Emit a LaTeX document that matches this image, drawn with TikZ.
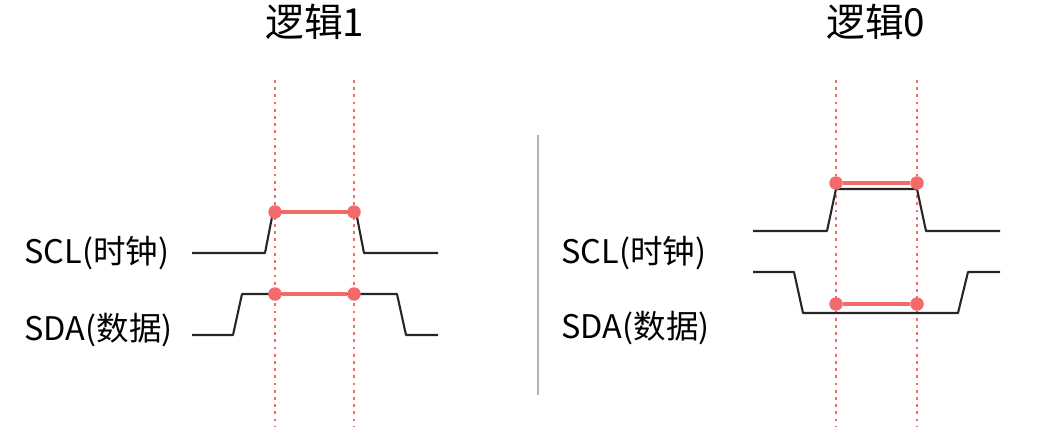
\documentclass[tikz,border=0pt]{standalone}
\usepackage{fontspec}
\setmainfont{Noto Sans CJK SC}
\usepackage{tikz}
\usetikzlibrary{positioning}

\definecolor{sigred}{HTML}{F26A6A}

\begin{document}
\begin{tikzpicture}[x=0.02cm, y=-0.02cm,
    wave/.style={black!85, line width=1.2pt, line join=round},
    guide/.style={sigred, line width=1.6pt, dash pattern=on 1.6pt off 2.5pt},
    hold/.style={sigred, line width=1.9pt},
    pin/.style={circle, fill=sigred, inner sep=0pt, minimum size=0.27cm},
    title/.style={font=\fontsize{22}{26}\selectfont},
    signame/.style={font=\fontsize{18.5}{22}\selectfont, anchor=west, inner sep=0pt}]
	\useasboundingbox (0,0) rectangle (1042,427);

	% Titles
	\node[title] (tone) at (315,22) {逻辑1};
	\node[title] (tzero) at (876,22) {逻辑0};

	% Signal names
	\node[signame] (sclA) at (24,253) {SCL(时钟)};
	\node[signame] (sdaA) at (24,330) {SDA(数据)};
	\node[signame] (sclB) at (561,253) {SCL(时钟)};
	\node[signame] (sdaB) at (561,328) {SDA(数据)};

	% Sampling window guides
	\foreach \x in {275, 354, 836, 917} {
		\draw[guide] (\x,80) -- (\x,427);
	}

	% Divider
	\draw[gray!60, line width=1pt] (538,135) -- (538,395);

	% Logic 1 waves
	\draw[wave] (192,253) -- (265,253) -- (273,212) -- (356,212) -- (364,253) -- (438,253);
	\draw[wave] (192,335) -- (233,335) -- (242,294) -- (397,294) -- (406,335) -- (438,335);

	% Logic 0 waves
	\draw[wave] (753,231) -- (827,231) -- (836,189) -- (917,189) -- (926,231) -- (1000,231);
	\draw[wave] (753,272) -- (794,272) -- (803,313) -- (958,313) -- (968,272) -- (1000,272);

	% Stable levels, logic 1
	\node[pin] (ca) at (275,212) {};
	\node[pin] (cb) at (354,212) {};
	\node[pin] (da) at (275,294) {};
	\node[pin] (db) at (354,294) {};
	\draw[hold] (ca) -- (cb);
	\draw[hold] (da) -- (db);

	% Stable levels, logic 0
	\node[pin] (ec) at (836,183) {};
	\node[pin] (ed) at (917,183) {};
	\node[pin] (fa) at (836,304) {};
	\node[pin] (fb) at (917,304) {};
	\draw[hold] (ec) -- (ed);
	\draw[hold] (fa) -- (fb);
\end{tikzpicture}
\end{document}
